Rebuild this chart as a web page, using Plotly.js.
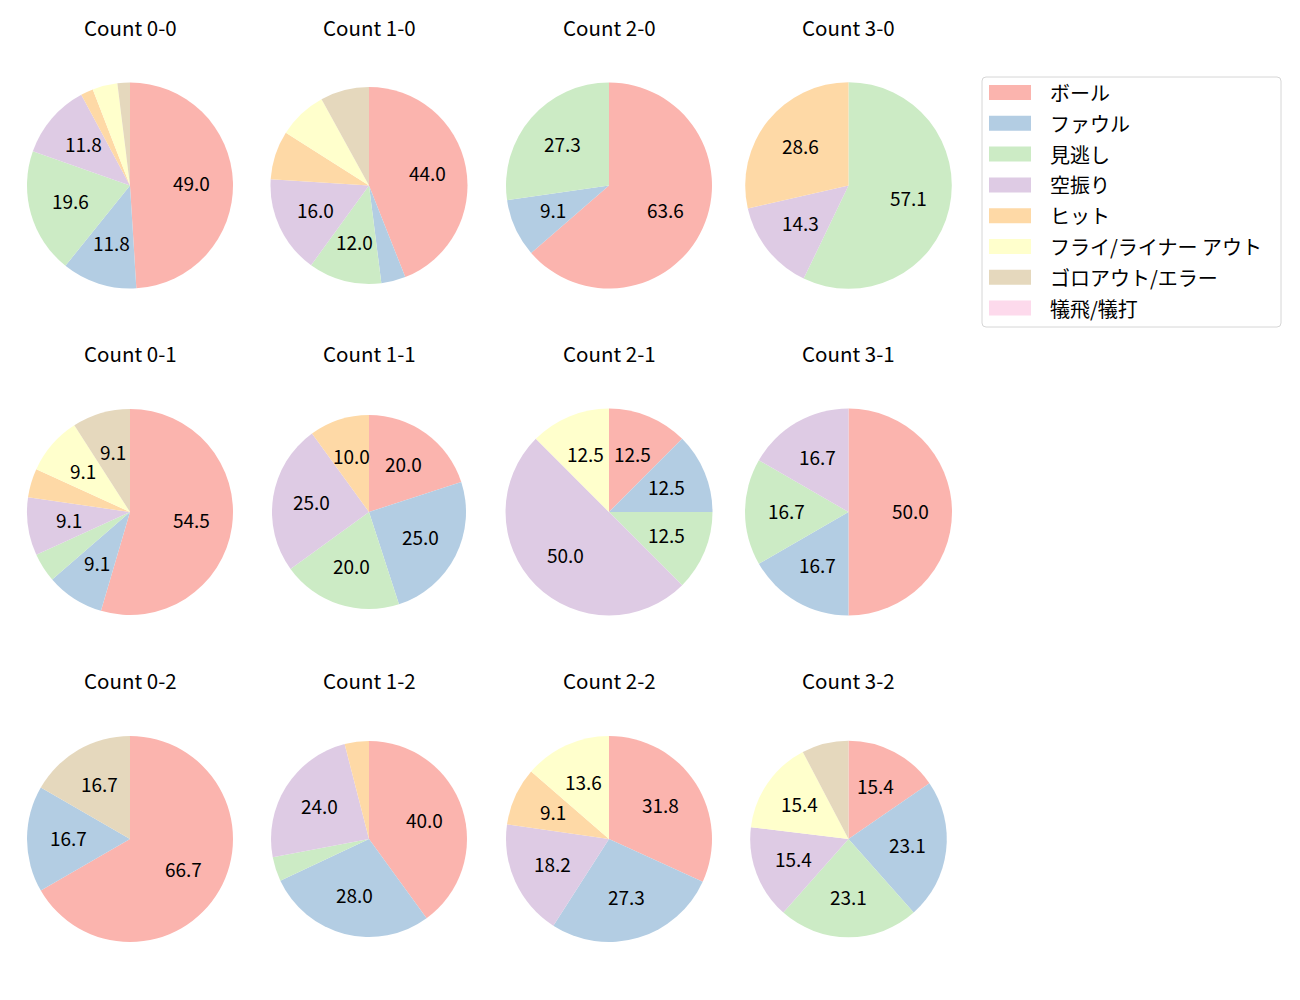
<!DOCTYPE html>
<html><head><meta charset="utf-8">
<script src="https://cdn.plot.ly/plotly-3.0.1.min.js"></script>
<style>body{margin:0;background:#fff}</style>
</head><body><div id="chart" style="width:1300px;height:1000px"></div>
<script>
// ---- data ----
const labels = ['ボール','ファウル','見逃し','空振り','ヒット','フライ/ライナー アウト','ゴロアウト/エラー','犠飛/犠打'];
const colors = ['#fbb4ae','#b3cde3','#ccebc5','#decbe4','#fed9a6','#ffffcc','#e5d8bd','#fddaec'];
const titles = ['Count 0-0','Count 1-0','Count 2-0','Count 3-0',
                'Count 0-1','Count 1-1','Count 2-1','Count 3-1',
                'Count 0-2','Count 1-2','Count 2-2','Count 3-2'];
const c00 = [25,6,10,6,1,2,1,0];
const c10 = [11,1,3,4,2,2,2,0];
const c20 = [7,1,3,0,0,0,0,0];
const c30 = [0,0,4,1,2,0,0,0];
const c01 = [12,2,1,2,1,2,2,0];
const c11 = [4,5,4,5,2,0,0,0];
const c21 = [1,1,1,4,0,1,0,0];
const c31 = [3,1,1,1,0,0,0,0];
const c02 = [4,1,0,0,0,0,1,0];
const c12 = [10,7,1,6,1,0,0,0];
const c22 = [7,6,0,4,2,3,0,0];
const c32 = [2,3,3,2,0,2,1,0];
const series = [c00,c10,c20,c30,c01,c11,c21,c31,c02,c12,c22,c32];

// ---- layout geometry (pixels) ----
const W = 1300, H = 1000;
const colX = [130, 369, 609, 848.5];
const rowY = [185.5, 512, 839];
const titleY = [29, 355.5, 682];
const radii = [103,98.5,103,103.3, 103,97,103.5,103.5, 103,98,103,98.3];
const FONT = '"Noto Sans CJK JP", "Noto Sans", sans-serif';

const traces = [];
const annotations = [];
const shapes = [];

series.forEach((vals, k) => {
  const cx = colX[k % 4], cy = rowY[Math.floor(k / 4)], r = radii[k];
  traces.push({
    type: 'pie',
    labels: labels,
    values: vals,
    sort: false,
    direction: 'clockwise',
    rotation: 0,
    marker: {colors: colors, line: {width: 0}},
    textinfo: 'none',
    hoverinfo: 'label+percent',
    showlegend: false,
    domain: {x: [(cx - r) / W, (cx + r) / W], y: [1 - (cy + r) / H, 1 - (cy - r) / H]}
  });
  // title
  annotations.push({
    text: titles[k], xref: 'paper', yref: 'paper',
    x: cx / W, y: 1 - titleY[Math.floor(k / 4)] / H, yshift: 2,
    xanchor: 'center', yanchor: 'middle', showarrow: false,
    font: {family: FONT, size: 20.5, color: '#000'}
  });
  // percentage labels at 0.6 r
  const total = vals.reduce((a, b) => a + b, 0);
  let cum = 0;
  vals.forEach(v => {
    const pct = 100 * v / total;
    if (v > 0 && pct > 8.5) {
      const th = 2 * Math.PI * (cum + v / 2) / total;
      const px = cx + 0.6 * r * Math.sin(th);
      const py = cy - 0.6 * r * Math.cos(th);
      annotations.push({
        text: pct.toFixed(1), xref: 'paper', yref: 'paper',
        x: px / W, y: 1 - py / H, yshift: 1.5, xanchor: 'center', yanchor: 'middle',
        showarrow: false, font: {family: FONT, size: 19, color: '#000'}
      });
    }
    cum += v;
  });
});

// ---- legend (drawn) ----
const L = {x0: 982, x1: 1281, y0: 77, y1: 327, rad: 4};
const fx = v => v / W, fy = v => 1 - v / H;
shapes.push({
  type: 'path', xref: 'paper', yref: 'paper',
  path: `M${fx(L.x0 + L.rad)},${fy(L.y0)} L${fx(L.x1 - L.rad)},${fy(L.y0)} Q${fx(L.x1)},${fy(L.y0)} ${fx(L.x1)},${fy(L.y0 + L.rad)} ` +
        `L${fx(L.x1)},${fy(L.y1 - L.rad)} Q${fx(L.x1)},${fy(L.y1)} ${fx(L.x1 - L.rad)},${fy(L.y1)} ` +
        `L${fx(L.x0 + L.rad)},${fy(L.y1)} Q${fx(L.x0)},${fy(L.y1)} ${fx(L.x0)},${fy(L.y1 - L.rad)} ` +
        `L${fx(L.x0)},${fy(L.y0 + L.rad)} Q${fx(L.x0)},${fy(L.y0)} ${fx(L.x0 + L.rad)},${fy(L.y0)} Z`,
  line: {color: '#d6d6d6', width: 1}, fillcolor: 'rgba(255,255,255,0.8)', layer: 'above'
});
labels.forEach((lab, i) => {
  const yc = 92.5 + i * 30.8;
  shapes.push({
    type: 'rect', xref: 'paper', yref: 'paper',
    x0: fx(989), x1: fx(1031), y0: fy(yc - 7.5), y1: fy(yc + 7.5),
    fillcolor: colors[i], line: {width: 0}, layer: 'above'
  });
  annotations.push({
    text: lab, xref: 'paper', yref: 'paper', x: fx(1048), y: fy(yc),
    xanchor: 'left', yanchor: 'middle', showarrow: false,
    font: {family: FONT, size: 20, color: '#000'}
  });
});

const layout = {
  width: W, height: H,
  margin: {l: 0, r: 0, t: 0, b: 0},
  paper_bgcolor: '#fff', plot_bgcolor: '#fff',
  showlegend: false,
  font: {family: FONT},
  annotations: annotations,
  shapes: shapes
};
Plotly.newPlot('chart', traces, layout, {displayModeBar: false, staticPlot: true});
</script>
</body></html>
